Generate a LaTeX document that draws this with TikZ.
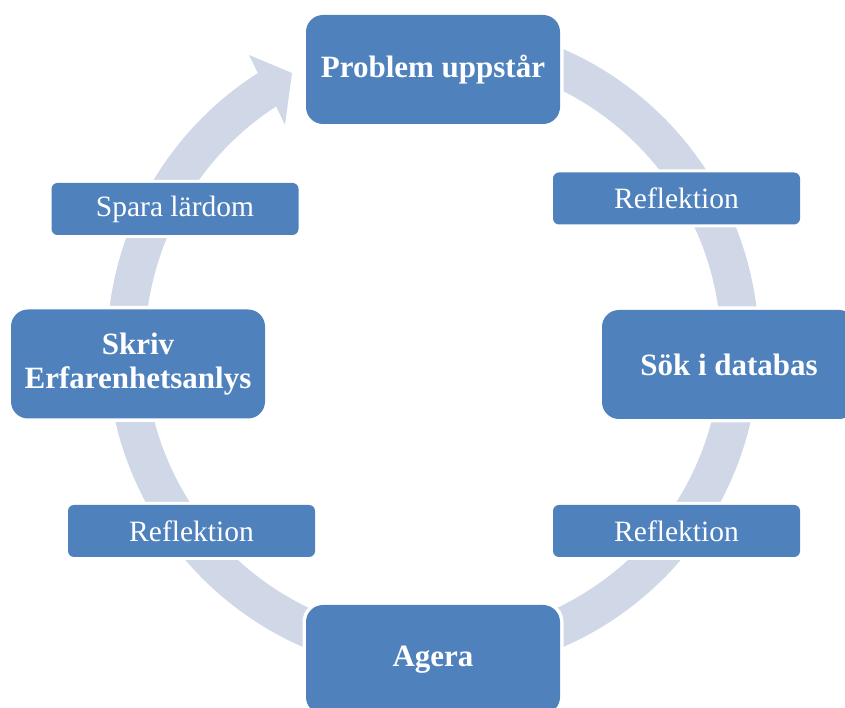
\documentclass[tikz,border=0pt]{standalone}
\usepackage{fontspec}
\setmainfont{Liberation Serif}
\definecolor{boxblue}{RGB}{79,129,189}
\definecolor{ringfill}{RGB}{208,216,232}
\tikzset{
  stagebox/.style={rounded corners=17pt, fill=boxblue,
    preaction={draw=white, line width=7pt},
    minimum width=254pt, minimum height=109pt, inner sep=0pt,
    text=white, align=center, font=\fontsize{31}{34}\selectfont\bfseries},
  notebox/.style={rounded corners=6pt, fill=boxblue,
    preaction={draw=white, line width=6pt},
    minimum width=247pt, minimum height=52pt, inner sep=0pt,
    text=white, align=center, font=\fontsize{29.5}{32}\selectfont}
}
\begin{document}
\begin{tikzpicture}[x=1pt,y=1pt]
  \useasboundingbox (0,0) rectangle (845,708);
  \clip (0,0) rectangle (845,708);
  % circular band with its arrowhead, clockwise from the top
  \begin{scope}[shift={(433,360)}]
    \fill[ringfill] (90:326) arc[start angle=90, end angle=-237.5, radius=326]
      -- (-184,293) -- (-141,275) -- (-148,223)
      -- (-237:288) arc[start angle=-237, end angle=90, radius=288] -- cycle;
  \end{scope}
  % main stages
  \node[stagebox] (problem) at (433,638.5) {Problem uppstår};
  \node[stagebox] (sok) at (729,343.5) {Sök i databas};
  \node[stagebox] (agera) at (433,48.5) {Agera};
  \node[stagebox] (skriv) at (138,344) {Skriv\\Erfarenhetsanlys};
  % labels between the stages
  \node[notebox] (refl1) at (676.5,509.5) {Reflektion};
  \node[notebox] (refl2) at (676.5,177) {Reflektion};
  \node[notebox] (refl3) at (191.5,177) {Reflektion};
  \node[notebox] (spara) at (175,499) {Spara lärdom};
\end{tikzpicture}
\end{document}
